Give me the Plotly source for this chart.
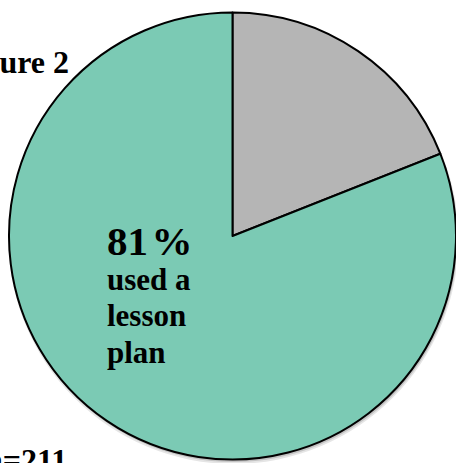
import plotly.graph_objects as go

# Share of respondents (n=211) by lesson-plan use
categories = ["Did not use a lesson plan", "Used a lesson plan"]
shares = [19, 81]
slice_colors = ["#B5B5B5", "#7BCAB4"]

title_text = "Figure 2"
sample_text = "n=211"
pct_text = "81\u200a%"
body_lines = ["used a", "lesson", "plan"]

W, H = 456, 463
cx, cy, r = 232.5, 236.0, 223.5   # pie centre and radius in pixels


def px(x):
    return x / W


def py(y):
    return 1 - y / H


fig = go.Figure()
fig.add_trace(go.Pie(
    labels=categories,
    values=shares,
    sort=False,
    direction="clockwise",
    rotation=0,
    marker=dict(colors=slice_colors, line=dict(color="black", width=2)),
    textinfo="none",
    hoverinfo="label+percent",
    showlegend=False,
    domain=dict(x=[px(cx - r), px(cx + r)], y=[py(cy + r), py(cy - r)]),
))

# soft drop shadow under the pie
shapes = []
for dx, dy, grow, alpha in [(1, 3, 1.5, 0.10), (1, 2, 0.5, 0.15)]:
    shapes.append(dict(
        type="circle", xref="paper", yref="paper", layer="below",
        x0=px(cx - r - grow + dx), x1=px(cx + r + grow + dx),
        y0=py(cy + r + grow + dy), y1=py(cy - r - grow + dy),
        fillcolor=f"rgba(0,0,0,{alpha})", line=dict(width=0),
    ))

serif = "Liberation Serif, Times New Roman, serif"
annotations = [
    dict(text=f"<b>{title_text}</b>", x=px(71), y=py(62), xanchor="right", yanchor="middle",
         font=dict(family=serif, size=32, color="black")),
    dict(text=f"<b>{sample_text}</b>", x=px(69), y=py(460), xanchor="right", yanchor="middle",
         font=dict(family=serif, size=32, color="black")),
    dict(text=f"<b>{pct_text}</b>", x=px(105), y=py(241), xanchor="left", yanchor="middle",
         font=dict(family=serif, size=41, color="black")),
]
for i, line in enumerate(body_lines):
    annotations.append(dict(
        text=f"<b>{line}</b>", x=px(105), y=py(279 + 36.5 * i), xanchor="left", yanchor="middle",
        font=dict(family=serif, size=31, color="black"),
    ))

fig.update_layout(
    width=W, height=H,
    margin=dict(l=0, r=0, t=0, b=0),
    paper_bgcolor="white", plot_bgcolor="white",
    shapes=shapes,
    annotations=[dict(a, xref="paper", yref="paper", showarrow=False) for a in annotations],
)

fig.write_html("out.html")
